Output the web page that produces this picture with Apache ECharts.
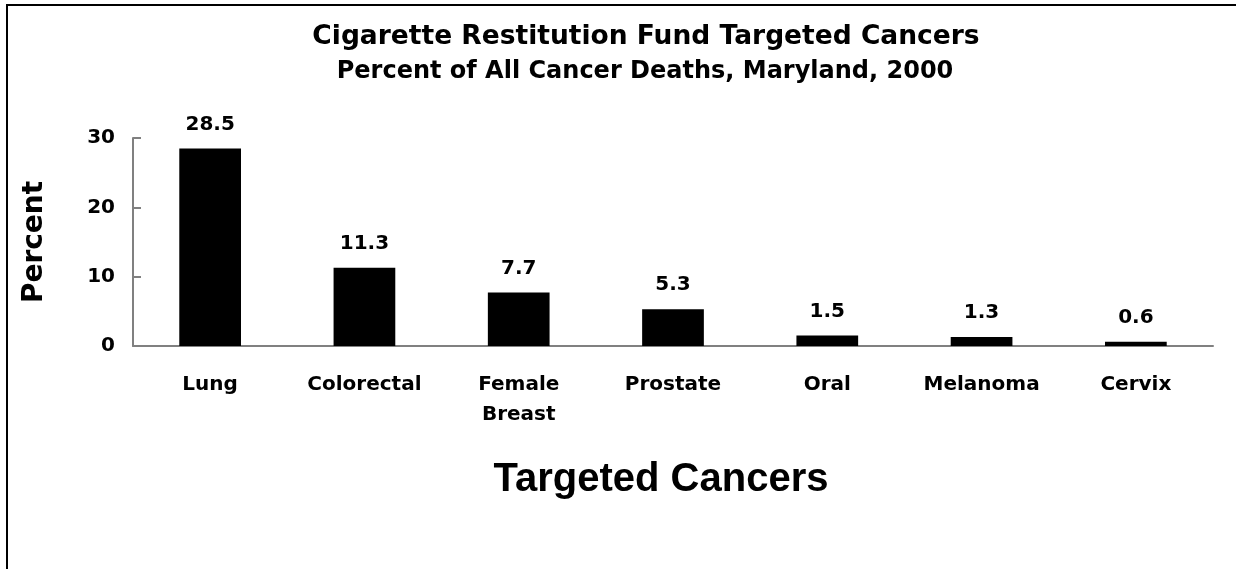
<!DOCTYPE html>
<html>
<head>
<meta charset="utf-8">
<script src="https://cdn.jsdelivr.net/npm/echarts@6/dist/echarts.min.js"></script>
<style>
  html, body { margin: 0; padding: 0; background: #fff; }
  #frame {
    position: absolute; left: 6px; top: 4px; width: 1300px; height: 700px;
    border-top: 2px solid #000; border-left: 2px solid #000;
  }
  #chart { position: absolute; left: 0; top: 0; width: 1236px; height: 569px; }
</style>
</head>
<body>
<div id="frame"></div>
<div id="chart"></div>
<script>
// 癌症类别和百分比
const categories = ["Lung", "Colorectal", "Female\nBreast", "Prostate", "Oral", "Melanoma", "Cervix"];
const percentValues = [28.5, 11.3, 7.7, 5.3, 1.5, 1.3, 0.6];
const yTicks = { min: 0, max: 30, interval: 10 };

const font = "DejaVu Sans";
const chart = echarts.init(document.getElementById("chart"));

const option = {
  backgroundColor: "transparent",
  animation: false,
  title: [
    {
      text: "Cigarette Restitution Fund Targeted Cancers",
      left: 641,
      top: 19,
      textAlign: "center",
      textStyle: { fontFamily: font, fontWeight: "bold", fontSize: 26.5, color: "#000" },
    },
    {
      text: "Percent of All Cancer Deaths, Maryland, 2000",
      left: 640,
      top: 55,
      textAlign: "center",
      textStyle: { fontFamily: font, fontWeight: "bold", fontSize: 24, color: "#000" },
    },
  ],
  grid: {
    left: 133,
    right: 23,
    top: 138,
    bottom: 223,
  },
  xAxis: {
    type: "category",
    data: categories,
    name: "Targeted Cancers",
    nameLocation: "middle",
    nameGap: 114,
    nameTextStyle: {
      fontFamily: "Liberation Sans",
      fontWeight: "bold",
      fontSize: 40,
      color: "#000",
      padding: [0, 24, 0, 0],
    },
    axisLine: { show: true, lineStyle: { color: "#808080", width: 2 } },
    axisTick: { show: false },
    axisLabel: {
      margin: 24,
      fontFamily: font,
      fontWeight: "bold",
      fontSize: 20,
      lineHeight: 30,
      color: "#000",
      interval: 0,
    },
  },
  yAxis: {
    type: "value",
    min: yTicks.min,
    max: yTicks.max,
    interval: yTicks.interval,
    name: "Percent",
    nameLocation: "middle",
    nameGap: 84,
    nameRotate: 90,
    nameTextStyle: {
      fontFamily: font,
      fontWeight: "bold",
      fontSize: 28,
      color: "#000",
    },
    axisLine: { show: true, lineStyle: { color: "#808080", width: 2 } },
    axisTick: { show: true, inside: true, length: 8, lineStyle: { color: "#808080", width: 2 } },
    splitLine: { show: false },
    axisLabel: {
      margin: 18,
      fontFamily: font,
      fontWeight: "bold",
      fontSize: 20,
      color: "#000",
    },
  },
  series: [
    {
      type: "bar",
      data: percentValues,
      barCategoryGap: "60%",
      itemStyle: { color: "#000" },
      label: {
        show: true,
        position: "top",
        distance: 14,
        fontFamily: font,
        fontWeight: "bold",
        fontSize: 20,
        color: "#000",
        formatter: (p) => p.value.toFixed(1),
      },
    },
  ],
};

chart.setOption(option);
</script>
</body>
</html>
